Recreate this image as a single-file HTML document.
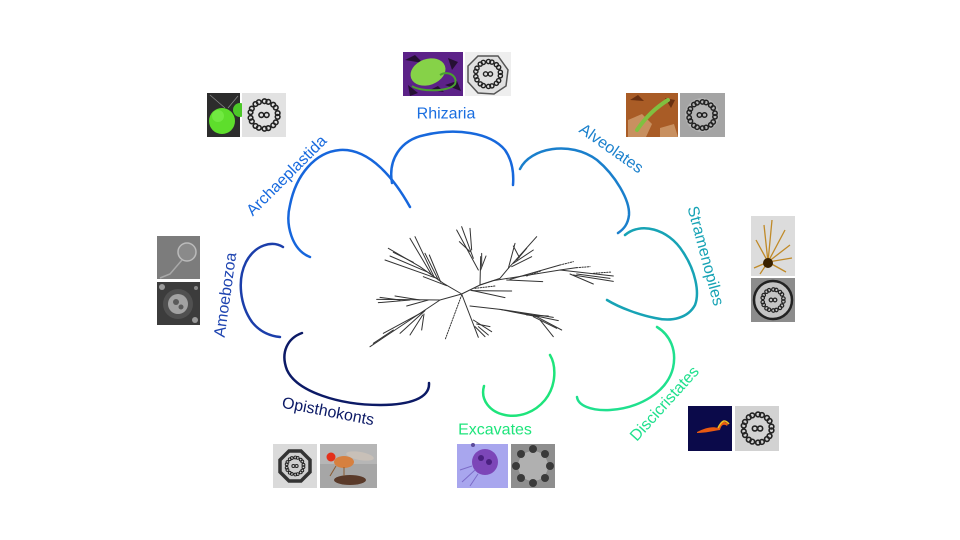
<!DOCTYPE html>
<html><head><meta charset="utf-8"><style>
html,body{margin:0;padding:0;background:#fff;}
svg{display:block;}
text{font-family:"Liberation Sans",Arial,sans-serif;font-size:16px;}
</style></head><body>
<svg width="960" height="540" viewBox="0 0 960 540" xmlns="http://www.w3.org/2000/svg">
<defs>
<symbol id="ring" viewBox="0 0 40 40">
<g fill="none" stroke="#222" stroke-width="1.5">
<circle cx="33" cy="18.2" r="2.2"/><circle cx="33" cy="21.8" r="2.2"/>
<circle cx="28.8" cy="29.8" r="2.2"/><circle cx="31.2" cy="27" r="2.2"/>
<circle cx="20.5" cy="33.1" r="2.2"/><circle cx="24.1" cy="32.5" r="2.2"/>
<circle cx="11.9" cy="30.4" r="2.2"/><circle cx="15.1" cy="32.2" r="2.2"/>
<circle cx="7.2" cy="22.7" r="2.2"/><circle cx="8.4" cy="26.1" r="2.2"/>
<circle cx="8.4" cy="13.9" r="2.2"/><circle cx="7.2" cy="17.3" r="2.2"/>
<circle cx="15.1" cy="7.8" r="2.2"/><circle cx="11.9" cy="9.6" r="2.2"/>
<circle cx="24.1" cy="7.5" r="2.2"/><circle cx="20.5" cy="6.9" r="2.2"/>
<circle cx="31.2" cy="13" r="2.2"/><circle cx="28.8" cy="10.2" r="2.2"/>
<circle cx="17.5" cy="20" r="2.3"/><circle cx="22.5" cy="20" r="2.3"/>
</g>
</symbol>
</defs>

<!-- Tree -->
<g transform="translate(360,220) scale(0.33333)" stroke="#333" stroke-width="3" fill="none" stroke-linecap="round">
<polyline points="305,222 250,190 180,140 85,85"/>
<line x1="230" y1="175" x2="75" y2="120"/>
<line x1="200" y1="155" x2="90" y2="108"/>
<line x1="160" y1="127" x2="100" y2="97"/>
<line x1="215" y1="165" x2="150" y2="55"/>
<line x1="222" y1="170" x2="165" y2="50"/>
<line x1="235" y1="180" x2="195" y2="100"/>
<line x1="242" y1="186" x2="208" y2="105"/>
<line x1="260" y1="197" x2="190" y2="170"/>
<polyline points="305,222 240,240 50,238"/>
<line x1="180" y1="240" x2="105" y2="228"/>
<line x1="150" y1="240" x2="55" y2="248"/>
<line x1="120" y1="240" x2="60" y2="232"/>
<line x1="205" y1="240" x2="140" y2="258"/>
<line x1="240" y1="240" x2="30" y2="380"/>
<line x1="190" y1="275" x2="70" y2="340"/>
<line x1="195" y1="272" x2="120" y2="340"/>
<line x1="188" y1="285" x2="150" y2="345"/>
<line x1="192" y1="282" x2="185" y2="330"/>
<line x1="100" y1="330" x2="40" y2="370"/>
<line x1="305" y1="225" x2="255" y2="360" stroke-dasharray="4,4"/>
<line x1="305" y1="222" x2="355" y2="352"/>
<line x1="340" y1="300" x2="395" y2="335"/>
<line x1="350" y1="312" x2="390" y2="320"/>
<line x1="355" y1="320" x2="385" y2="345"/>
<line x1="345" y1="320" x2="375" y2="350"/>
<polyline points="330,258 420,268 530,290 605,330"/>
<line x1="420" y1="268" x2="580" y2="292"/>
<line x1="480" y1="278" x2="595" y2="302"/>
<line x1="520" y1="290" x2="590" y2="325"/>
<line x1="540" y1="300" x2="580" y2="350"/>
<line x1="500" y1="285" x2="565" y2="288"/>
<polyline points="305,222 360,195"/>
<line x1="360" y1="195" x2="362" y2="110"/>
<line x1="355" y1="150" x2="290" y2="30"/>
<line x1="340" y1="115" x2="305" y2="20"/>
<line x1="335" y1="90" x2="330" y2="25"/>
<line x1="330" y1="95" x2="298" y2="65"/>
<line x1="362" y1="150" x2="378" y2="108"/>
<line x1="365" y1="140" x2="365" y2="100"/>
<polyline points="360,195 420,175 445,145 530,50"/>
<line x1="445" y1="145" x2="465" y2="70"/>
<line x1="460" y1="130" x2="520" y2="90"/>
<line x1="470" y1="120" x2="500" y2="85"/>
<line x1="455" y1="140" x2="515" y2="110"/>
<line x1="478" y1="112" x2="460" y2="78"/>
<polyline points="360,195 400,182 600,150 760,168"/>
<line x1="450" y1="178" x2="600" y2="135"/>
<line x1="600" y1="135" x2="640" y2="125" stroke-dasharray="4,4"/>
<line x1="600" y1="150" x2="650" y2="143"/>
<line x1="650" y1="143" x2="690" y2="140" stroke-dasharray="4,4"/>
<line x1="630" y1="162" x2="700" y2="192"/>
<line x1="640" y1="165" x2="760" y2="184"/>
<line x1="650" y1="162" x2="750" y2="175"/>
<line x1="700" y1="160" x2="755" y2="156" stroke-dasharray="4,4"/>
<line x1="500" y1="168" x2="545" y2="152" stroke-dasharray="4,4"/>
<line x1="440" y1="180" x2="548" y2="185"/>
<line x1="330" y1="210" x2="435" y2="233"/>
<line x1="345" y1="205" x2="405" y2="198" stroke-dasharray="4,4"/>
<line x1="335" y1="212" x2="455" y2="213"/>
</g>

<!-- Arcs -->
<g fill="none" stroke-width="2.5" stroke-linecap="round">
<path d="M310,257 C292,250 285,225 290,205 C296,175 315,152 340,150 C370,148 395,180 410,207" stroke="#1666dc"/>
<path d="M392,183 C388,160 400,140 425,135 C455,128 490,132 505,150 C512,160 514,172 513,185" stroke="#1768dc"/>
<path d="M520,169 C530,148 570,140 597,160 C615,175 630,200 629,215 C628,224 624,229 618,233" stroke="#1a7fcc"/>
<path d="M625,235 C640,222 668,228 683,252 C695,270 700,292 695,305 C688,318 672,322 655,318 C640,315 620,308 607,300" stroke="#17a3b5"/>
<path d="M657,327 C670,335 677,350 673,368 C667,392 640,408 610,410 C590,411 578,405 577,397" stroke="#1fe08e"/>
<path d="M550,355 C556,365 557,385 545,400 C535,412 520,418 505,415 C490,412 480,400 484,386" stroke="#1ee47b"/>
<path d="M302,333 C288,338 280,352 287,370 C297,392 340,405 380,405 C410,405 430,398 429,383" stroke="#0c1a66"/>
<path d="M283,247 C272,240 255,245 246,262 C237,280 240,305 252,322 C260,332 270,336 280,337" stroke="#1b3eaa"/>
</g>

<!-- Labels -->
<g text-anchor="middle" dominant-baseline="central">
<text x="446" y="114" fill="#1a6ee0">Rhizaria</text>
<text x="287" y="176" fill="#1769de" transform="rotate(-45 287 176)">Archaeplastida</text>
<text x="611" y="149" fill="#1a80cc" transform="rotate(35 611 149)">Alveolates</text>
<text x="705" y="256" fill="#17a3b5" transform="rotate(75 705 256)">Stramenopiles</text>
<text x="665" y="404" fill="#1fe08e" transform="rotate(-48 665 404)">Discicristates</text>
<text x="495" y="430" fill="#1ee47b">Excavates</text>
<text x="328" y="412" fill="#0c1a66" transform="rotate(11 328 412)">Opisthokonts</text>
<text x="226" y="295" fill="#1e44b0" transform="rotate(-82 226 295)">Amoebozoa</text>
</g>

<!-- Archaeplastida images -->
<rect x="207" y="93" width="33" height="44" fill="#2c2c2c"/>
<line x1="210" y1="95" x2="225" y2="108" stroke="#888" stroke-width="0.8"/>
<line x1="238" y1="96" x2="228" y2="108" stroke="#888" stroke-width="0.8"/>
<circle cx="240" cy="110" r="7" fill="#4cc828"/>
<circle cx="222" cy="121" r="13" fill="#5ede2c"/>
<circle cx="218" cy="116" r="6" fill="#7ef050" opacity="0.6"/>
<rect x="242" y="93" width="44" height="44" fill="#e2e2e2"/>
<use href="#ring" x="243" y="94" width="42" height="42"/>

<!-- Rhizaria images -->
<rect x="403" y="52" width="60" height="44" fill="#5c2288"/>
<path d="M405,60 l10,-5 l8,8 z M445,85 l12,-4 l4,10 z M408,85 l10,8 l-8,3 z M448,58 l10,4 l-6,8 z M430,90 l8,-4 l6,6 z" fill="#261034"/>
<ellipse cx="428" cy="72" rx="18" ry="13" fill="#86d248" transform="rotate(-20 428 72)"/>
<path d="M412,86 C420,92 450,92 455,84 C458,76 448,70 440,75" fill="none" stroke="#4aa030" stroke-width="2"/>
<rect x="465" y="52" width="46" height="44" fill="#eeeeee"/>
<path d="M478,56 L498,56 L508,70 L506,86 L494,94 L478,93 L468,82 L468,66 Z" fill="#e0e0e0" stroke="#555" stroke-width="1.5"/>
<use href="#ring" x="469" y="55" width="38" height="38"/>

<!-- Alveolates images -->
<rect x="626" y="93" width="52" height="44" fill="#a95c26"/>
<path d="M628,120 l14,-6 l10,10 l-6,13 l-18,0 z M660,128 l14,-4 l4,13 l-18,0 z" fill="#c89060"/>
<path d="M630,100 l8,-5 l6,6 z M665,98 l10,2 l-4,8 z" fill="#6a3010"/>
<path d="M637,130 C645,118 655,108 668,100" fill="none" stroke="#80c040" stroke-width="4" stroke-linecap="round"/>
<rect x="680" y="93" width="45" height="44" fill="#a4a4a4"/>
<circle cx="702" cy="115" r="17" fill="#b4b4b4"/>
<use href="#ring" x="682" y="95" width="40" height="40"/>

<!-- Stramenopiles images -->
<rect x="751" y="216" width="44" height="60" fill="#dcdcdc"/>
<g stroke="#c08a28" stroke-width="1.3" fill="none">
<path d="M768,262 L764,225 M768,262 L772,220 M768,262 L785,230 M768,262 L790,245 M768,262 L792,258 M768,262 L786,272 M768,262 L756,240 M768,262 L754,268 M768,262 L760,274"/>
</g>
<circle cx="768" cy="263" r="5" fill="#3a2200"/>
<rect x="751" y="278" width="44" height="44" fill="#8c8c8c"/>
<circle cx="773" cy="300" r="19" fill="#c4c4c4" stroke="#222" stroke-width="2.5"/>
<use href="#ring" x="757" y="284" width="32" height="32"/>

<!-- Amoebozoa images -->
<rect x="157" y="236" width="43" height="43" fill="#7c7c7c"/>
<circle cx="187" cy="252" r="9" fill="#8a8a8a" stroke="#bbbbbb" stroke-width="1.5"/>
<path d="M182,260 L170,274 L160,278" fill="none" stroke="#a8a8a8" stroke-width="1.5"/>
<rect x="157" y="282" width="43" height="43" fill="#3c3c3c"/>
<circle cx="178" cy="304" r="15" fill="#505050"/>
<circle cx="178" cy="304" r="10" fill="#a2a2a2"/>
<circle cx="176" cy="302" r="3" fill="#5a5a5a"/>
<circle cx="181" cy="307" r="2.5" fill="#5a5a5a"/>
<circle cx="162" cy="287" r="3" fill="#9a9a9a"/>
<circle cx="195" cy="320" r="3" fill="#9a9a9a"/>
<circle cx="196" cy="288" r="2" fill="#8a8a8a"/>

<!-- Opisthokonts images -->
<rect x="273" y="444" width="44" height="44" fill="#dadada"/>
<polygon points="289,451 301,451 310,460 310,472 301,481 289,481 280,472 280,460" fill="#cfcfcf" stroke="#333" stroke-width="3.5"/>
<use href="#ring" x="282" y="453" width="26" height="26"/>
<rect x="320" y="444" width="57" height="44" fill="#a6a6a6"/>
<rect x="320" y="444" width="57" height="20" fill="#b6b6b6"/>
<ellipse cx="350" cy="480" rx="16" ry="5" fill="#5a3a2a"/>
<ellipse cx="360" cy="456" rx="14" ry="4" fill="#c8c0b8" transform="rotate(10 360 456)"/>
<ellipse cx="344" cy="462" rx="10" ry="6" fill="#d68040"/>
<circle cx="331" cy="457" r="4.5" fill="#e4301a"/>
<line x1="336" y1="466" x2="330" y2="476" stroke="#8a5a30" stroke-width="1"/>
<line x1="344" y1="467" x2="344" y2="476" stroke="#8a5a30" stroke-width="1"/>

<!-- Excavates images -->
<rect x="457" y="444" width="51" height="44" fill="#a8a6ee"/>
<circle cx="485" cy="462" r="13" fill="#7c46b8"/>
<circle cx="481" cy="458" r="3" fill="#4a2080"/>
<circle cx="489" cy="462" r="3" fill="#4a2080"/>
<path d="M475,470 L462,482 M478,474 L470,486 M472,466 L460,470" stroke="#7c6cc8" stroke-width="1" fill="none"/>
<circle cx="473" cy="445" r="2" fill="#5a4a9a"/>
<rect x="511" y="444" width="44" height="44" fill="#8e8e8e"/>
<circle cx="533" cy="466" r="15" fill="#b0b0b0"/>
<g fill="#3a3a3a">
<circle cx="533" cy="449" r="4"/><circle cx="545" cy="454" r="4"/><circle cx="550" cy="466" r="4"/>
<circle cx="545" cy="478" r="4"/><circle cx="533" cy="483" r="4"/><circle cx="521" cy="478" r="4"/>
<circle cx="516" cy="466" r="4"/><circle cx="521" cy="454" r="4"/>
</g>

<!-- Discicristates images -->
<rect x="688" y="406" width="44" height="45" fill="#0b0a4a"/>
<path d="M697,432 C705,428 712,426 718,428 C720,422 724,420 728,424 L727,426 C723,423 721,426 720,430 C713,431 705,433 697,433 Z" fill="#e85a12"/>
<path d="M718,428 C722,420 725,419 729,424" fill="none" stroke="#f0c020" stroke-width="1.5"/>
<rect x="735" y="406" width="44" height="45" fill="#d2d2d2"/>
<use href="#ring" x="736" y="407" width="43" height="43"/>
</svg>
</body></html>
